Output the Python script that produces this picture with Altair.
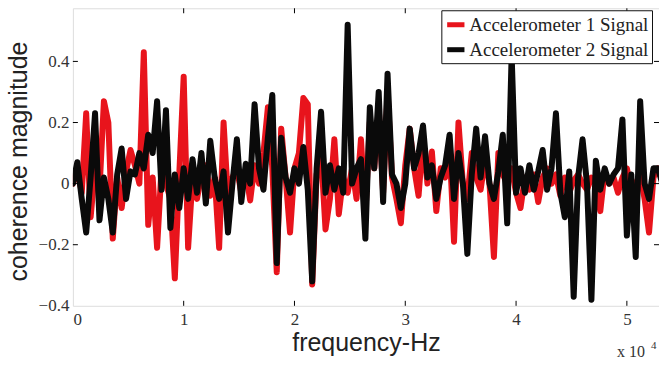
import altair as alt
import pandas as pd

# frequency grid (units of 1e4 Hz)
n_pts = 134
freq = [round(i * 0.04, 2) for i in range(n_pts)]

acc1 = [0.0, 0.05, -0.03, 0.23, -0.11, 0.05, -0.02, 0.27, 0.2, -0.18,
        0.02, -0.08, 0.04, 0.11, 0.06, 0.0, 0.43, -0.135, 0.02, -0.21,
        0.05, 0.0, -0.05, -0.31, 0.03, 0.35, -0.21, 0.02, -0.05, 0.03,
        0.06, -0.04, 0.02, -0.21, 0.2, -0.05, 0.02, 0.05, -0.03, 0.04,
        -0.055, 0.06, 0.0, 0.1, 0.25, 0.05, -0.29, 0.18, 0.02, -0.16,
        0.05, 0.1, 0.28, 0.26, -0.33, 0.03, 0.1, -0.15, -0.05, 0.145,
        -0.1, 0.02, -0.03, 0.05, -0.05, 0.145, -0.1, 0.2, 0.05, 0.25,
        -0.03, 0.3, 0.02, -0.05, -0.13, 0.06, 0.18, 0.05, -0.04, 0.15,
        0.0, 0.105, -0.09, 0.05, 0.02, 0.12, -0.19, 0.2, 0.0, -0.05,
        0.1, 0.02, -0.02, 0.08, 0.0, -0.24, 0.1, 0.03, 0.0, 0.05,
        -0.03, -0.08, 0.02, -0.02, 0.03, -0.06, 0.02, 0.05, 0.0, 0.03,
        -0.04, 0.02, -0.03, 0.01, 0.03, 0.0, -0.02, 0.02, 0.0, -0.09,
        0.04, 0.0, 0.02, -0.03, 0.02, 0.05, -0.02, 0.0, 0.03, -0.05,
        -0.16, 0.02, 0.05, 0.02]

acc2 = [0.0, 0.07, -0.05, -0.16, 0.02, 0.23, -0.12, 0.02, -0.05, -0.16,
        0.03, 0.115, -0.05, 0.04, 0.03, 0.1, 0.05, 0.16, 0.1, 0.27,
        -0.02, 0.24, -0.145, 0.03, -0.08, 0.05, -0.05, 0.08, -0.03, 0.1,
        -0.065, 0.14, 0.02, -0.05, 0.04, -0.16, 0.0, 0.145, -0.06, 0.065,
        0.0, 0.26, 0.05, -0.02, 0.15, 0.29, -0.26, 0.15, 0.02, -0.03,
        0.05, 0.0, 0.12, -0.02, -0.32, 0.05, 0.235, -0.03, 0.06, -0.02,
        0.05, -0.03, 0.52, 0.0, 0.05, 0.08, -0.18, 0.25, 0.05, 0.3,
        -0.06, 0.36, 0.03, 0.0, -0.08, 0.0, 0.18, 0.05, 0.1, 0.19,
        0.02, 0.06, -0.05, 0.02, 0.06, 0.16, -0.05, 0.1, 0.0, -0.23,
        0.03, 0.18, 0.02, 0.155, 0.0, -0.05, 0.04, 0.16, -0.13, 0.42,
        -0.03, 0.05, -0.03, 0.06, -0.02, 0.04, 0.11, -0.02, 0.05, 0.23,
        -0.03, -0.11, 0.04, -0.37, 0.02, 0.145, 0.0, -0.38, 0.075, -0.02,
        0.05, 0.0, 0.03, 0.05, 0.21, -0.17, 0.03, -0.24, 0.27, 0.0,
        -0.05, 0.05, 0.05, 0.0]

series_names = ["Accelerometer 1 Signal", "Accelerometer 2 Signal"]
series_colors = ["#e8141c", "#0a0a0a"]
x_ticks = [0, 1, 2, 3, 4, 5]
y_ticks = [-0.4, -0.2, 0, 0.2, 0.4]

W, H = 587, 298
X_DOM = [0, 5.29]
Y_DOM = [-0.4, 0.574]

df = pd.DataFrame({
    "freq": freq * 2,
    "value": acc1 + acc2,
    "series": [series_names[0]] * n_pts + [series_names[1]] * n_pts,
})

xs = alt.Scale(domain=X_DOM, nice=False, zero=False)
ys = alt.Scale(domain=Y_DOM, nice=False, zero=False)
color = alt.Color(
    "series:N",
    scale=alt.Scale(domain=series_names, range=series_colors),
    legend=alt.Legend(
        orient="none", legendX=369, legendY=2, title=None,
        symbolType="stroke", symbolStrokeWidth=5, symbolSize=300,
        labelFont="Liberation Serif", labelFontSize=19, labelColor="#222",
        strokeColor="#111", fillColor="white", padding=3, rowPadding=3,
        labelOffset=2, labelLimit=400,
    ),
)

x_axis = alt.Axis(
    values=x_ticks, title="frequency-Hz", grid=False, domain=False, ticks=False,
    labelFont="Liberation Serif", labelFontSize=17, labelColor="#333",
    labelPadding=6, titleFont="Liberation Sans", titleFontSize=25,
    titleFontWeight="normal", titleColor="#222", titleBaseline="alphabetic",
    titleY=45, format="d",
)
y_axis = alt.Axis(
    values=y_ticks, title="coherence magnitude", grid=False, domain=False,
    ticks=False, labelFont="Liberation Serif", labelFontSize=17,
    labelColor="#333", labelPadding=4, titleFont="Liberation Sans",
    titleFontSize=25, titleFontWeight="normal", titleColor="#222",
    titleBaseline="alphabetic", titleX=-46, titleY=153,
    labelExpr="format(datum.value, '.1~f')",
)

base = alt.Chart(df)
red = base.transform_filter(alt.datum.series == series_names[0]).mark_line(
    strokeWidth=6, strokeJoin="round", strokeCap="round", clip=True
).encode(
    x=alt.X("freq:Q", scale=xs, axis=x_axis),
    y=alt.Y("value:Q", scale=ys, axis=y_axis),
    color=color,
)
black = base.transform_filter(alt.datum.series == series_names[1]).mark_line(
    strokeWidth=6, strokeJoin="round", strokeCap="round", clip=True
).encode(
    x=alt.X("freq:Q", scale=xs),
    y=alt.Y("value:Q", scale=ys),
    color=color,
)

xt = pd.DataFrame({"t": x_ticks[1:]})
yt = pd.DataFrame({"t": y_ticks[1:]})
tick_bottom = alt.Chart(xt).mark_rule(color="#000", strokeWidth=1).encode(
    x=alt.X("t:Q", scale=xs), y=alt.value(H - 5), y2=alt.value(H))
tick_top = alt.Chart(xt).mark_rule(color="#000", strokeWidth=1).encode(
    x=alt.X("t:Q", scale=xs), y=alt.value(0), y2=alt.value(5))
tick_left = alt.Chart(yt).mark_rule(color="#000", strokeWidth=1).encode(
    y=alt.Y("t:Q", scale=ys), x=alt.value(0), x2=alt.value(5))
tick_right = alt.Chart(yt).mark_rule(color="#000", strokeWidth=1).encode(
    y=alt.Y("t:Q", scale=ys), x=alt.value(W - 5), x2=alt.value(W))

exp_label = alt.Chart(pd.DataFrame({"s": ["x 10"]})).mark_text(
    font="Liberation Serif", fontSize=16, color="#333", align="left",
    baseline="alphabetic"
).encode(text="s:N", x=alt.value(545), y=alt.value(H + 51))
exp_sup = alt.Chart(pd.DataFrame({"s": ["4"]})).mark_text(
    font="Liberation Serif", fontSize=11, color="#333", align="left",
    baseline="alphabetic"
).encode(text="s:N", x=alt.value(579), y=alt.value(H + 43))

chart = alt.layer(
    red, black, tick_bottom, tick_top, tick_left, tick_right, exp_label, exp_sup
).properties(
    width=W, height=H,
    autosize=alt.AutoSizeParams(type="none"),
    padding={"left": 73, "top": 8, "right": 0, "bottom": 59},
).configure_view(stroke="#111", strokeWidth=1.5).configure(background="white")

chart.save("out.html", embed_options={"renderer": "svg", "actions": False})
